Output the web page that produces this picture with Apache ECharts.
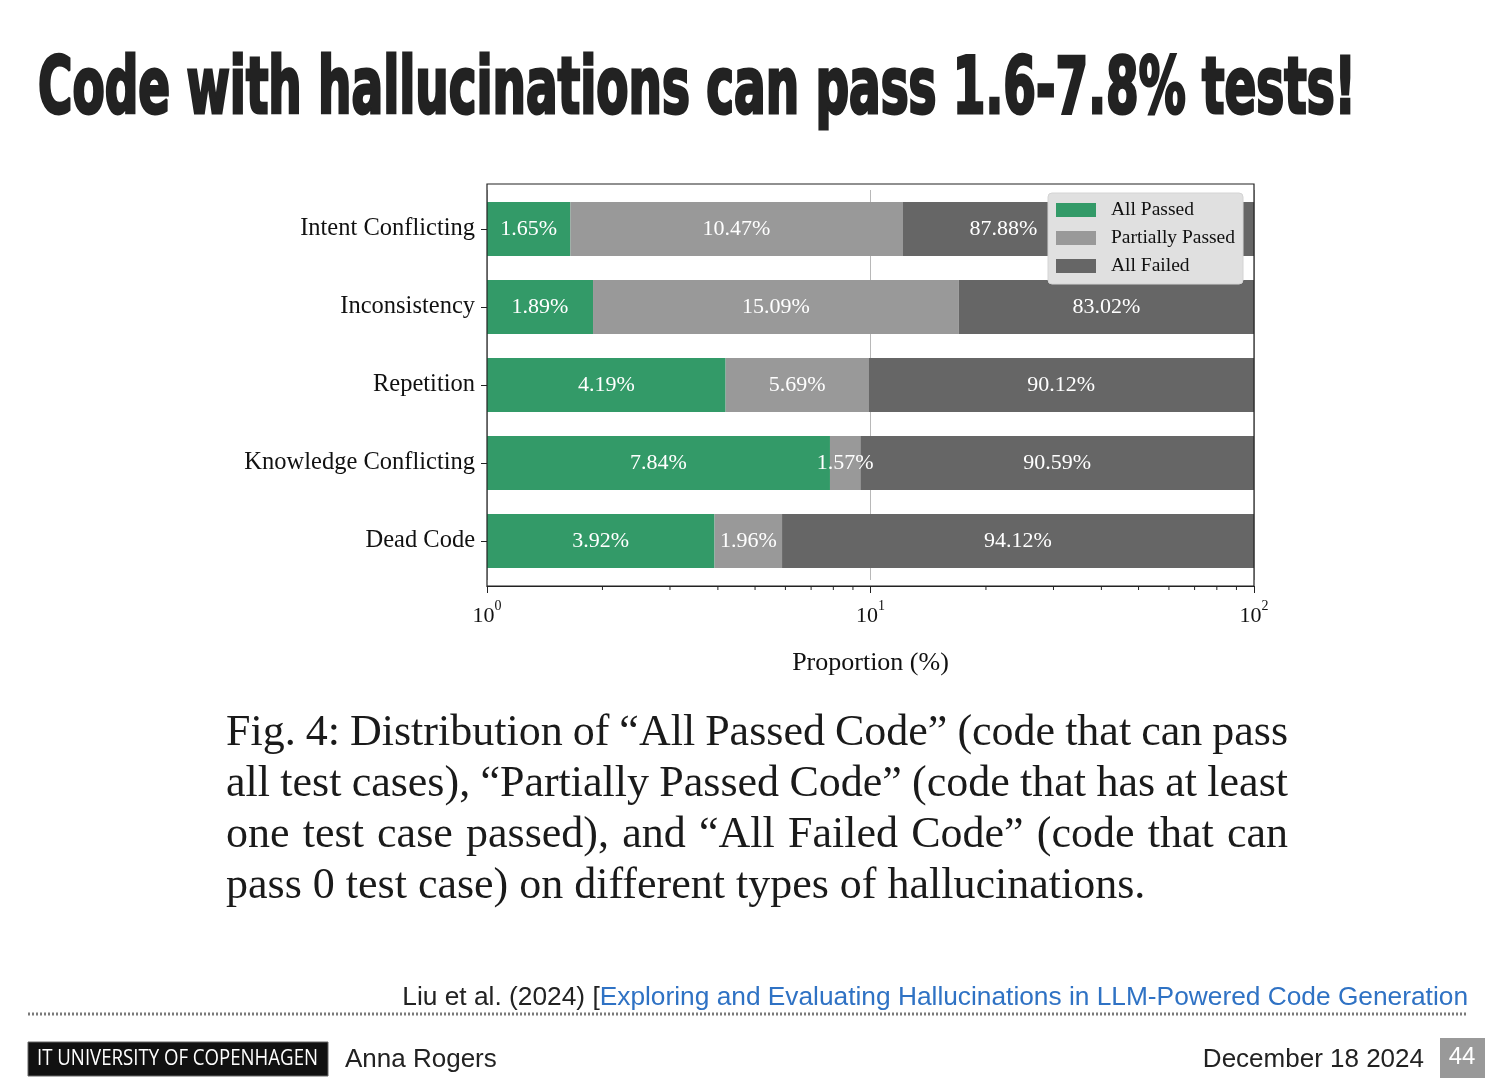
<!DOCTYPE html>
<html>
<head>
<meta charset="utf-8">
<script src="https://cdn.jsdelivr.net/npm/echarts@6/dist/echarts.min.js"></script>
<style>
html,body{margin:0;padding:0;background:#fff;}
#main{width:1499px;height:1092px;}
</style>
</head>
<body>
<div id="main"></div>
<script>
// ---- data ----
const CATEGORIES = ['Intent Conflicting', 'Inconsistency', 'Repetition', 'Knowledge Conflicting', 'Dead Code'];
const ALL_PASSED = [1.65, 1.89, 4.19, 7.84, 3.92];
const PARTIALLY_PASSED = [10.47, 15.09, 5.69, 1.57, 1.96];
const ALL_FAILED = [87.88, 83.02, 90.12, 90.59, 94.12];
const SERIES_NAMES = ['All Passed', 'Partially Passed', 'All Failed'];
const X_MAJOR_TICKS = [1, 10, 100];
const X_MINOR_TICKS = [2, 3, 4, 5, 6, 7, 8, 9, 20, 30, 40, 50, 60, 70, 80, 90];
// label anchor (axis value) for the one label moved left of the legend in the original
const ALL_FAILED_LABEL_AT = [22.2, null, null, null, null];

const TITLE = 'Code with hallucinations can pass 1.6-7.8% tests!';
const CAPTION_LINES = [
  'Fig. 4: Distribution of \u201cAll Passed Code\u201d (code that can pass',
  'all test cases), \u201cPartially Passed Code\u201d (code that has at least',
  'one test case passed), and \u201cAll Failed Code\u201d (code that can',
  'pass 0 test case) on different types of hallucinations.'
];

const COLORS = ['#339a68', '#999999', '#666666'];
const SERIF = '"Liberation Serif", "DejaVu Serif", serif';
const SANS = '"Liberation Sans", Arial, sans-serif';

const canvas = document.createElement('canvas');
const ctx = canvas.getContext('2d');
function measure(text, font) { ctx.font = font; return ctx.measureText(text).width; }

// segments: [start, end, categoryIndex, pct, labelAt]
const VALUE_SETS = [ALL_PASSED, PARTIALLY_PASSED, ALL_FAILED];
const segData = [[], [], []];
CATEGORIES.forEach((c, i) => {
  let cum = 0;
  VALUE_SETS.forEach((arr, s) => {
    const start = cum;
    cum += arr[i];
    const la = (s === 2 && ALL_FAILED_LABEL_AT[i] != null) ? ALL_FAILED_LABEL_AT[i] : 0;
    segData[s].push([start, cum, i, arr[i], la]);
  });
});

function renderSeg(params, api) {
  const cs = params.coordSys;
  const s = api.value(0), e = api.value(1), ci = api.value(2), pct = api.value(3), la = api.value(4);
  const pE = api.coord([e, ci]);
  const x0 = s > 0 ? api.coord([s, ci])[0] : cs.x;
  const h = api.size([0, 1])[1] * 0.69;
  const x1 = pE[0];
  const lx = la > 0 ? api.coord([la, ci])[0] : (x0 + x1) / 2;
  return {
    type: 'group',
    children: [
      { type: 'rect', shape: { x: x0, y: pE[1] - h / 2, width: x1 - x0, height: h },
        style: { fill: api.visual('color') } },
      { type: 'text', z2: 10, style: { text: pct.toFixed(2) + '%', x: lx, y: pE[1],
        align: 'center', verticalAlign: 'middle', fill: '#ffffff', font: '22px ' + SERIF } }
    ]
  };
}

function renderMinor(params, api) {
  const cs = params.coordSys;
  const x = api.coord([api.value(0), 0])[0];
  const yb = cs.y + cs.height + 6;
  return { type: 'line', shape: { x1: x, y1: yb, x2: x, y2: yb + 4 },
    style: { stroke: '#222', lineWidth: 1 } };
}

const series = SERIES_NAMES.map((n, s) => ({
  name: n, type: 'custom', renderItem: renderSeg,
  itemStyle: { color: COLORS[s] },
  encode: { x: [0, 1], y: 2 },
  data: segData[s], z: 2
}));
series.push({
  name: 'minor', type: 'custom', renderItem: renderMinor, silent: true, clip: false,
  encode: { x: 0 }, data: X_MINOR_TICKS.map(v => [v]), z: 5
});

// ---- graphics (title, caption, footer) ----
const graphics = [];
const titleFont = 'bold 78px "DejaVu Sans Condensed", "DejaVu Sans", sans-serif';
const titleW = measure(TITLE, titleFont);
graphics.push({ type: 'text', x: 38, y: 93, scaleX: 1318 / titleW, scaleY: 1,
  style: { text: TITLE, font: titleFont, fill: '#222', stroke: '#222', lineWidth: 3,
    align: 'left', verticalAlign: 'middle' } });

// plot frame
graphics.push({ type: 'rect', shape: { x: 487, y: 184, width: 767, height: 402 },
  style: { fill: 'none', stroke: '#222', lineWidth: 1.2 }, z: 10 });

// caption justified
const capFont = '44px ' + SERIF;
const capX0 = 226, capW = 1062;
const capMid = [733, 784, 835, 886];
CAPTION_LINES.forEach((line, li) => {
  const words = line.split(' ');
  const ws = words.map(w => measure(w, capFont));
  const total = ws.reduce((a, b) => a + b, 0);
  const last = li === CAPTION_LINES.length - 1;
  const gap = last ? measure(' ', capFont) : (capW - total) / (words.length - 1);
  let x = capX0;
  words.forEach((w, wi) => {
    graphics.push({ type: 'text', x: x, y: capMid[li],
      style: { text: w, font: capFont, fill: '#1a1a1a', align: 'left', verticalAlign: 'middle' } });
    x += ws[wi] + gap;
  });
});

// citation
graphics.push({ type: 'text', x: 1468, y: 998,
  style: { text: '{a|Liu et al. (2024) [}{b|Exploring and Evaluating Hallucinations in LLM-Powered Code Generation}',
    align: 'right', verticalAlign: 'middle',
    rich: { a: { font: '26.3px ' + SANS, fill: '#222' }, b: { font: '26.3px ' + SANS, fill: '#2f72c4' } } } });
// dotted rule
graphics.push({ type: 'line', shape: { x1: 28, y1: 1014, x2: 1468, y2: 1014 },
  style: { stroke: '#7a7a7a', lineWidth: 3, lineDash: [2, 2] } });
// footer
graphics.push({ type: 'rect', shape: { x: 28, y: 1042, width: 300, height: 34 }, style: { fill: '#111', stroke: '#666', lineWidth: 1 } });
const itu = 'IT UNIVERSITY OF COPENHAGEN';
const ituFont = '22px "Open Sans", "Liberation Sans", sans-serif';
const ituW = measure(itu, ituFont);
graphics.push({ type: 'text', x: 37, y: 1059, scaleX: 281 / ituW,
  style: { text: itu, font: ituFont, fill: '#fff', align: 'left', verticalAlign: 'middle' } });
graphics.push({ type: 'text', x: 345, y: 1060,
  style: { text: 'Anna Rogers', font: '26px ' + SANS, fill: '#222', align: 'left', verticalAlign: 'middle' } });
graphics.push({ type: 'text', x: 1424, y: 1060,
  style: { text: 'December 18 2024', font: '26px ' + SANS, fill: '#222', align: 'right', verticalAlign: 'middle' } });
graphics.push({ type: 'rect', shape: { x: 1440, y: 1038, width: 45, height: 40 }, style: { fill: '#999' } });
graphics.push({ type: 'text', x: 1462, y: 1057,
  style: { text: '44', font: '24px ' + SANS, fill: '#fff', align: 'center', verticalAlign: 'middle' } });

const chart = echarts.init(document.getElementById('main'));
chart.setOption({
  animation: false,
  backgroundColor: '#ffffff',
  grid: { left: 487, right: 245, top: 190, bottom: 512, containLabel: false },
  xAxis: {
    type: 'log', logBase: 10, min: X_MAJOR_TICKS[0], max: X_MAJOR_TICKS[X_MAJOR_TICKS.length - 1],
    offset: 6,
    axisLine: { show: true, lineStyle: { color: '#222', width: 1.2 } },
    axisTick: { show: true, length: 7, lineStyle: { color: '#222' } },
    splitLine: { show: true, lineStyle: { color: '#b8b8b8', width: 1 } },
    minorTick: { show: false },
    axisLabel: {
      margin: 13, color: '#111',
      formatter: v => '{b|10}{s|' + Math.round(Math.log10(v)) + '}',
      rich: { b: { fontSize: 22, fontFamily: SERIF, color: '#111' },
              s: { fontSize: 14, fontFamily: SERIF, color: '#111', padding: [0, 0, 20, 0] } }
    },
    name: 'Proportion (%)', nameLocation: 'middle', nameGap: 64,
    nameTextStyle: { fontSize: 26, fontFamily: SERIF, color: '#111' }
  },
  yAxis: {
    type: 'category', data: CATEGORIES, inverse: true,
    axisLine: { show: false },
    axisTick: { show: true, alignWithLabel: true, length: 6, lineStyle: { color: '#222' } },
    axisLabel: { margin: 12, fontSize: 24.5, fontFamily: SERIF, color: '#111' },
    splitLine: { show: false }
  },
  legend: {
    data: SERIES_NAMES, orient: 'vertical', left: 1048, top: 193,
    padding: [7, 8, 8, 8], itemGap: 8, itemWidth: 40, itemHeight: 14,
    icon: 'rect', selectedMode: false,
    backgroundColor: '#e0e0e0', borderColor: '#d4d4d4', borderWidth: 1, borderRadius: 4,
    textStyle: { fontSize: 19.5, fontFamily: SERIF, color: '#111', padding: [0, 0, 0, 10], lineHeight: 20 }
  },
  series: series,
  graphic: graphics
});
</script>
</body>
</html>
